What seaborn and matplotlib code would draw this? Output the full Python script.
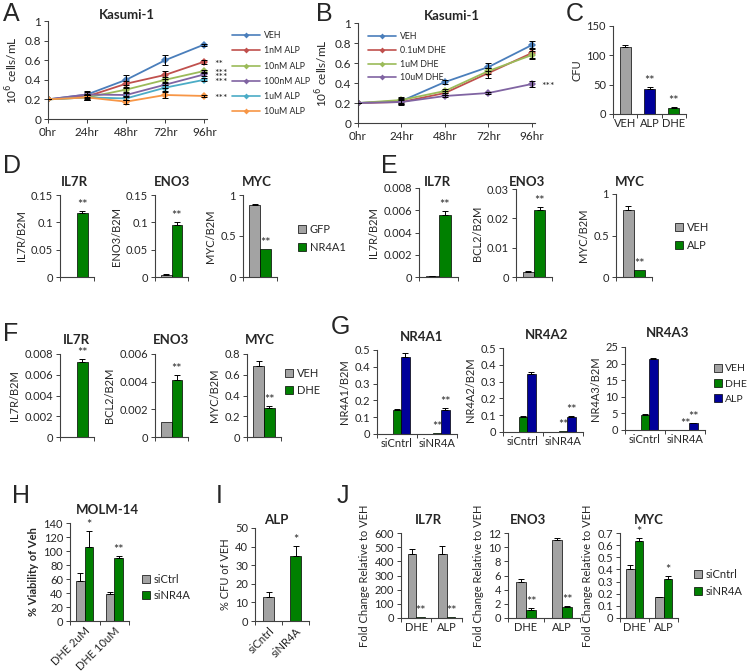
import numpy as np
import pandas as pd
import matplotlib
matplotlib.use('Agg')
import matplotlib.pyplot as plt
import seaborn as sns
from matplotlib.ticker import FuncFormatter
from matplotlib.patches import Patch
from matplotlib.lines import Line2D
from matplotlib.container import BarContainer

# ---------------- data ----------------
hours = ['0hr', '24hr', '48hr', '72hr', '96hr']

a_series = ['VEH', '1nM ALP', '10nM ALP', '100nM ALP', '1uM ALP', '10uM ALP']
a_veh = [0.20, 0.25, 0.40, 0.60, 0.76]
a_1nm = [0.20, 0.23, 0.36, 0.45, 0.585]
a_10nm = [0.20, 0.22, 0.30, 0.40, 0.49]
a_100nm = [0.20, 0.25, 0.245, 0.35, 0.455]
a_1um = [0.20, 0.22, 0.21, 0.32, 0.40]
a_10um = [0.20, 0.22, 0.177, 0.245, 0.235]
a_err_veh = [0, 0.04, 0.05, 0.05, 0.01]
a_err_1nm = [0, 0.03, 0.03, 0.04, 0.02]
a_err_oth = [0, 0.03, 0.02, 0.03, 0.015]
a_stars = ['', '**', '***', '***', '***', '***']

b_series = ['VEH', '0.1uM DHE', '1uM DHE', '10uM DHE']
b_veh = [0.20, 0.22, 0.41, 0.56, 0.78]
b_01 = [0.20, 0.21, 0.30, 0.50, 0.70]
b_1 = [0.20, 0.23, 0.32, 0.52, 0.68]
b_10 = [0.20, 0.21, 0.27, 0.30, 0.39]
b_err_veh = [0, 0.03, 0.02, 0.04, 0.04]
b_err_01 = [0, 0.03, 0.02, 0.05, 0.05]
b_err_1 = [0, 0.03, 0.02, 0.03, 0.04]
b_err_10 = [0, 0.02, 0.01, 0.01, 0.03]
b_stars = ['', '', '', '***']

c_cats = ['VEH', 'ALP', 'DHE']
c_vals = [115, 43, 11]
c_err = [3, 3, 1.2]
c_stars = ['', '**', '**']

d_genes = ['IL7R', 'ENO3', 'MYC']
d_groups = ['GFP', 'NR4A1']
d_gfp = [0.0005, 0.004, 0.88]
d_nr4a1 = [0.117, 0.095, 0.34]
d_gfp_err = [0, 0.001, 0.005]
d_nr4a1_err = [0.004, 0.006, 0.0]
d_ylabels = ['IL7R/B2M', 'ENO3/B2M', 'MYC/B2M']
d_ymax = [0.15, 0.15, 1]
d_ystep = [0.05, 0.05, 0.5]

e_groups = ['VEH', 'ALP']
e_veh = [0.00005, 0.0018, 0.81]
e_alp = [0.0056, 0.023, 0.08]
e_veh_err = [0.00002, 0.0001, 0.04]
e_alp_err = [0.0003, 0.001, 0.0]
e_ylabels = ['IL7R/B2M', 'BCL2/B2M', 'MYC/B2M']
e_ymax = [0.008, 0.03, 1]
e_ystep = [0.002, 0.01, 0.5]

f_groups = ['VEH', 'DHE']
f_veh = [0.00002, 0.0011, 0.68]
f_dhe = [0.0072, 0.0041, 0.28]
f_veh_err = [0, 0, 0.05]
f_dhe_err = [0.0003, 0.0004, 0.02]
f_ylabels = ['IL7R/B2M', 'BCL2/B2M', 'MYC/B2M']
f_ymax = [0.008, 0.006, 0.8]
f_ystep = [0.002, 0.002, 0.2]

g_genes = ['NR4A1', 'NR4A2', 'NR4A3']
g_cats = ['siCntrl', 'siNR4A']
g_groups = ['VEH', 'DHE', 'ALP']
g_veh = [[0.001, 0.001], [0.001, 0.0005], [0.02, 0.01]]
g_dhe = [[0.14, 0.004], [0.09, 0.003], [4.5, 0.1]]
g_alp = [[0.46, 0.14], [0.345, 0.09], [21.4, 2.0]]
g_dhe_err = [[0.01, 0], [0.003, 0], [0.2, 0]]
g_alp_err = [[0.025, 0.012], [0.013, 0.004], [0.3, 0.15]]
g_ymax = [0.5, 0.5, 25]
g_ystep = [0.1, 0.1, 5]

h_cats = ['DHE 2uM', 'DHE 10uM']
h_groups = ['siCtrl', 'siNR4A']
h_ctrl = [57, 38]
h_nr4a = [106, 90]
h_ctrl_err = [11, 4]
h_nr4a_err = [23, 3]
h_stars = ['*', '**']

i_cats = ['siCntrl', 'siNR4A']
i_vals = [13, 35]
i_err = [2.5, 5.5]
i_stars = ['', '*']

j_genes = ['IL7R', 'ENO3', 'MYC']
j_cats = ['DHE', 'ALP']
j_groups = ['siCntrl', 'siNR4A']
j_ctrl = [[450, 450], [5.1, 11.0], [0.40, 0.17]]
j_nr4a = [[5, 5], [1.2, 1.6], [0.635, 0.32]]
j_ctrl_err = [[40, 55], [0.4, 0.3], [0.04, 0.005]]
j_nr4a_err = [[0, 0], [0.2, 0.05], [0.025, 0.025]]
j_stars = [['**', '**'], ['**', '**'], ['*', '*']]
j_ymax = [600, 12, 0.7]
j_ystep = [100, 2, 0.1]

# ---------------- style ----------------
sns.set_theme(style='ticks')
plt.rcParams['font.family'] = ['Lato', 'DejaVu Sans']
plt.rcParams['axes.linewidth'] = 0.8
plt.rcParams['axes.edgecolor'] = '#404040'

GRAY = '#A3A3A3'
GREEN = '#008000'
NAVY = '#000099'
LINE_COLORS = ['#4A7EBB', '#C0504D', '#9BBB59', '#8064A2', '#4BACC6', '#F79646']
FS = 8          # tick / label font size
STAR_FS = 9

W, H = 750, 672
fig = plt.figure(figsize=(7.5, 6.72), dpi=100)


def add_ax(x0, x1, y0, y1):
    return fig.add_axes([x0 / W, 1 - y1 / H, (x1 - x0) / W, (y1 - y0) / H])


def ftext(x, y, s, **kw):
    fig.text(x / W, 1 - y / H, s, **kw)


def letter(x, y, s):
    ftext(x, y, s, fontsize=18, family=['Liberation Sans', 'DejaVu Sans'], va='baseline', ha='left')


def title(x, y, s, size=9.5):
    ftext(x, y, s, fontsize=size, fontweight='bold', ha='center', va='center')


fmt = FuncFormatter(lambda v, p: f'{v:g}')


def style_y(ax, ymax, step, fs=FS):
    ax.set_ylim(0, ymax)
    ax.set_yticks(np.arange(0, ymax + step / 2, step))
    ax.yaxis.set_major_formatter(fmt)
    ax.tick_params(axis='y', direction='out', length=3, width=0.7, labelsize=fs, pad=2, left=True,
                   color='#404040')
    sns.despine(ax=ax)


def style_bar_x(ax, n, labels=None, fs=FS, rot=False):
    ax.set_xlim(-0.5, n - 0.5)
    ax.set_xticks(np.arange(n))
    ax.set_xticks(np.arange(-0.5, n), minor=True)
    ax.tick_params(axis='x', which='major', length=0, labelsize=fs, pad=3)
    ax.tick_params(axis='x', which='minor', length=3, width=0.7, direction='out', bottom=True,
                   color='#404040')
    if labels is None:
        ax.set_xticklabels([''] * n)
    elif rot:
        ax.set_xticklabels(labels, rotation=45, ha='right', rotation_mode='anchor')
    else:
        ax.set_xticklabels(labels)
    ax.set_xlabel('')


def err_and_star(ax, x, h, e, star, fs=STAR_FS):
    if e > 0:
        ax.errorbar(x, h, yerr=[[0], [e]], fmt='none', ecolor='black', elinewidth=0.7,
                    capsize=2, capthick=0.7, zorder=5)
    if star:
        ax.annotate(star, (x, h + e), xytext=(0, 0), textcoords='offset points',
                    ha='center', va='bottom', fontsize=fs)


def bar_conts(ax):
    return [c for c in ax.containers if isinstance(c, BarContainer)]


def grouped_bars(ax, cats, groups, vals, errs, colors, stars=None, star_group=None, width=0.6):
    rows = []
    for g, vl in zip(groups, vals):
        for c, v in zip(cats, vl):
            rows.append((c, g, v))
    df = pd.DataFrame(rows, columns=['cat', 'grp', 'val'])
    sns.barplot(data=df, x='cat', y='val', hue='grp', order=cats, hue_order=groups,
                palette=colors, width=width, edgecolor='black', linewidth=0.5,
                errorbar=None, legend=False, saturation=1, ax=ax)
    conts = bar_conts(ax)
    for gi, cont in enumerate(conts):
        for bar in cont:
            xc = bar.get_x() + bar.get_width() / 2
            j = int(round(xc))
            st = ''
            if stars is not None and gi == star_group:
                st = stars[j]
            err_and_star(ax, xc, bar.get_height(), errs[gi][j], st)
    ax.set_ylabel('')
    return conts


def single_bars(ax, cats, vals, errs, colors, stars, width):
    df = pd.DataFrame({'cat': cats, 'val': vals})
    sns.barplot(data=df, x='cat', y='val', hue='cat', order=cats, hue_order=cats,
                palette=colors, width=width, edgecolor='black', linewidth=0.5,
                errorbar=None, legend=False, saturation=1, dodge=False, ax=ax)
    for cont in bar_conts(ax):
        for bar in cont:
            xc = bar.get_x() + bar.get_width() / 2
            j = int(round(xc))
            err_and_star(ax, xc, bar.get_height(), errs[j], stars[j])
    ax.set_ylabel('')


def bar_legend(ax, labels, colors, x, y, spacing=0.55, fs=FS):
    handles = [Patch(facecolor=c, edgecolor='black', linewidth=0.5) for c in colors]
    ax.legend(handles, labels, loc='upper left', bbox_to_anchor=(x / W, 1 - y / H),
              bbox_transform=fig.transFigure, frameon=False, fontsize=fs,
              handlelength=0.75, handleheight=0.75, handletextpad=0.3, labelspacing=spacing,
              borderpad=0, borderaxespad=0)


def line_panel(ax, names, vals, errs, colors):
    rows = []
    for nm, vl in zip(names, vals):
        for t, v in enumerate(vl):
            rows.append((t, nm, v))
    df = pd.DataFrame(rows, columns=['t', 's', 'v'])
    sns.lineplot(data=df, x='t', y='v', hue='s', hue_order=names, palette=colors,
                 marker='D', markersize=3.8, markeredgewidth=0, linewidth=1.3,
                 errorbar=None, legend=False, ax=ax)
    for vl, el in zip(vals, errs):
        ax.errorbar(range(len(vl)), vl, yerr=el, fmt='none', ecolor='black', elinewidth=0.7,
                    capsize=2, capthick=0.7, zorder=4)
    ax.set_xlim(0, 4.07)
    ax.set_xticks(range(5))
    ax.set_xticklabels(hours)
    ax.tick_params(axis='x', direction='out', length=3, width=0.7, labelsize=8.5, pad=3,
                   bottom=True, color='#404040')
    ax.set_xlabel('')
    style_y(ax, 1, 0.2, fs=8.5)
    ax.set_ylabel(r'10$^{6}$ cells/mL', fontsize=8.5, labelpad=3)


def line_legend(ax, names, colors, x, y, spacing):
    handles = [Line2D([0], [0], color=c, marker='D', markersize=3, markeredgewidth=0, lw=1.2)
               for c in colors]
    ax.legend(handles, names, loc='upper left', bbox_to_anchor=(x / W, 1 - y / H),
              bbox_transform=fig.transFigure, frameon=False, fontsize=6.3,
              handlelength=3.2, handletextpad=0.5, labelspacing=spacing,
              borderpad=0, borderaxespad=0)


# ---------------- Panel A ----------------
axA = add_ax(48, 207, 21, 119)
a_vals = [a_veh, a_1nm, a_10nm, a_100nm, a_1um, a_10um]
a_errs = [a_err_veh, a_err_1nm, a_err_oth, a_err_oth, a_err_oth, a_err_oth]
line_panel(axA, a_series, a_vals, a_errs, LINE_COLORS)
for vl, st in zip(a_vals, a_stars):
    if st:
        axA.annotate(st, (4, vl[-1]), xytext=(7, -2), textcoords='offset points',
                     ha='left', va='center', fontsize=7.5)
line_legend(axA, a_series, LINE_COLORS, 232, 31, 0.72)
title(127, 15, 'Kasumi-1')
letter(3, 21, 'A')

# ---------------- Panel B ----------------
axB = add_ax(358, 535, 23, 123)
b_vals = [b_veh, b_01, b_1, b_10]
b_errs = [b_err_veh, b_err_01, b_err_1, b_err_10]
line_panel(axB, b_series, b_vals, b_errs, LINE_COLORS[:4])
for vl, st in zip(b_vals, b_stars):
    if st:
        axB.annotate(st, (4, vl[-1]), xytext=(7, -2), textcoords='offset points',
                     ha='left', va='center', fontsize=7.5)
line_legend(axB, b_series, LINE_COLORS[:4], 368, 32, 0.55)
title(452, 16, 'Kasumi-1')
letter(316, 21, 'B')

# ---------------- Panel C ----------------
axC = add_ax(613, 686, 26, 114)
single_bars(axC, c_cats, c_vals, c_err, [GRAY, NAVY, GREEN], c_stars, 0.45)
style_y(axC, 150, 50)
style_bar_x(axC, 3, c_cats)
axC.set_ylabel('CFU', fontsize=FS, labelpad=3)
letter(566, 21, 'C')

# ---------------- Panel D ----------------
d_x = [(60, 94), (155, 188), (243, 277)]
d_tx = [74, 172, 257]
for k in range(3):
    ax = add_ax(d_x[k][0], d_x[k][1], 195, 277)
    grouped_bars(ax, [''], d_groups, [[d_gfp[k]], [d_nr4a1[k]]],
                 [[d_gfp_err[k]], [d_nr4a1_err[k]]], [GRAY, GREEN],
                 stars=['**'], star_group=1, width=0.62)
    style_y(ax, d_ymax[k], d_ystep[k])
    style_bar_x(ax, 1)
    ax.set_ylabel(d_ylabels[k], fontsize=FS, labelpad=3)
    title(d_tx[k], 182, d_genes[k])
    if k == 2:
        bar_legend(ax, d_groups, [GRAY, GREEN], 298, 224, 0.6)
letter(3, 173, 'D')

# ---------------- Panel E ----------------
e_x = [(419, 458), (516, 552), (616, 652)]
e_top = [188, 189, 194]
e_tx = [437, 527, 630]
for k in range(3):
    ax = add_ax(e_x[k][0], e_x[k][1], e_top[k], 277)
    grouped_bars(ax, [''], e_groups, [[e_veh[k]], [e_alp[k]]],
                 [[e_veh_err[k]], [e_alp_err[k]]], [GRAY, GREEN],
                 stars=['**'], star_group=1, width=0.62)
    style_y(ax, e_ymax[k], e_ystep[k])
    style_bar_x(ax, 1)
    ax.set_ylabel(e_ylabels[k], fontsize=FS, labelpad=3)
    title(e_tx[k], 182, d_genes[k])
    if k == 2:
        bar_legend(ax, e_groups, [GRAY, GREEN], 675, 222, 0.6)
letter(381, 173, 'E')

# ---------------- Panel F ----------------
f_x = [(60, 94), (155, 188), (247, 281)]
f_tx = [76, 171, 260]
for k in range(3):
    ax = add_ax(f_x[k][0], f_x[k][1], 354, 437)
    grouped_bars(ax, [''], f_groups, [[f_veh[k]], [f_dhe[k]]],
                 [[f_veh_err[k]], [f_dhe_err[k]]], [GRAY, GREEN],
                 stars=['**'], star_group=1, width=0.62)
    style_y(ax, f_ymax[k], f_ystep[k])
    style_bar_x(ax, 1)
    ax.set_ylabel(f_ylabels[k], fontsize=FS, labelpad=3)
    title(f_tx[k], 340, d_genes[k])
    if k == 2:
        bar_legend(ax, f_groups, [GRAY, GREEN], 285, 368, 0.55)
letter(3, 341, 'F')

# ---------------- Panel G ----------------
g_x = [(377, 457), (503, 583), (625, 705)]
g_top = [350, 348, 347]
g_bot = [434, 432, 430]
g_tx = [422, 547, 668]
g_ty = [337, 335, 333]
g_ylab = ['NR4A1/B2M', 'NR4A2/B2M', 'NR4A3/B2M']
for k in range(3):
    ax = add_ax(g_x[k][0], g_x[k][1], g_top[k], g_bot[k])
    conts = grouped_bars(ax, g_cats, g_groups, [g_veh[k], g_dhe[k], g_alp[k]],
                         [[0, 0], g_dhe_err[k], g_alp_err[k]], [GRAY, GREEN, NAVY], width=0.63)
    for gi in (1, 2):
        bar = conts[gi][1]
        xc = bar.get_x() + bar.get_width() / 2
        e = [g_dhe_err, g_alp_err][gi - 1][k][1]
        ax.annotate('**', (xc, bar.get_height() + e), xytext=(0, 0),
                    textcoords='offset points', ha='center', va='bottom', fontsize=STAR_FS)
    style_y(ax, g_ymax[k], g_ystep[k])
    style_bar_x(ax, 2, g_cats)
    ax.set_ylabel(g_ylab[k], fontsize=FS, labelpad=3)
    title(g_tx[k], g_ty[k], g_genes[k])
    if k == 2:
        bar_legend(ax, g_groups, [GRAY, GREEN, NAVY], 714, 364, 0.55, fs=7.5)
letter(331, 334, 'G')

# ---------------- Panel H ----------------
axH = add_ax(70, 129, 523, 621)
grouped_bars(axH, h_cats, h_groups, [h_ctrl, h_nr4a], [h_ctrl_err, h_nr4a_err],
             [GRAY, GREEN], stars=h_stars, star_group=1, width=0.58)
style_y(axH, 140, 20)
style_bar_x(axH, 2, h_cats, rot=True)
axH.set_ylabel('% Viability of Veh', fontsize=FS, fontweight='bold', labelpad=3)
bar_legend(axH, h_groups, [GRAY, GREEN], 142, 574, 0.45)
title(107, 510, 'MOLM-14')
letter(12, 503, 'H')

# ---------------- Panel I ----------------
axI = add_ax(255, 309, 528, 621)
single_bars(axI, i_cats, i_vals, i_err, [GRAY, GREEN], i_stars, 0.44)
style_y(axI, 50, 10)
style_bar_x(axI, 2, i_cats, rot=True)
axI.set_ylabel('% CFU of VEH', fontsize=FS, labelpad=3)
title(276, 520, 'ALP')
letter(216, 503, 'I')

# ---------------- Panel J ----------------
j_x = [(401, 462), (508, 580), (620, 678)]
j_tx = [428, 528, 649]
for k in range(3):
    ax = add_ax(j_x[k][0], j_x[k][1], 533, 618)
    grouped_bars(ax, j_cats, j_groups, [j_ctrl[k], j_nr4a[k]], [j_ctrl_err[k], j_nr4a_err[k]],
                 [GRAY, GREEN], stars=j_stars[k], star_group=1, width=0.56)
    style_y(ax, j_ymax[k], j_ystep[k])
    style_bar_x(ax, 2, j_cats)
    ax.set_ylabel('Fold Change Relative to VEH', fontsize=FS, labelpad=3)
    title(j_tx[k], 520, j_genes[k])
    if k == 2:
        bar_legend(ax, j_groups, [GRAY, GREEN], 694, 569, 0.5)
letter(337, 503, 'J')

fig.savefig('out.png', dpi=100)
